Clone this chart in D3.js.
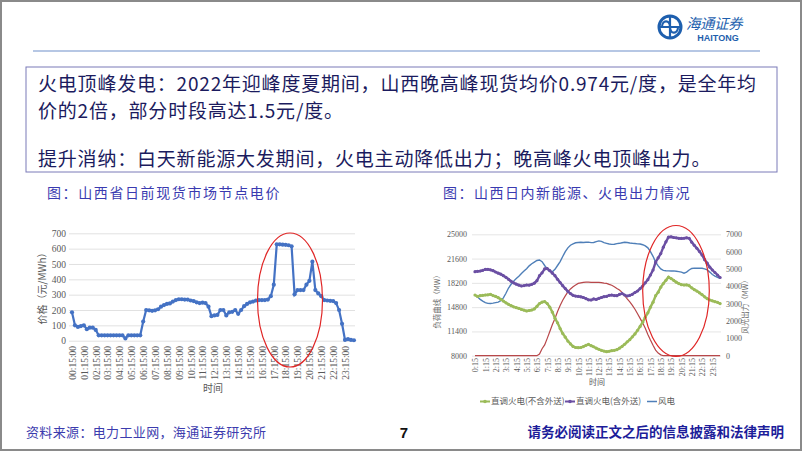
<!DOCTYPE html>
<html><head><meta charset="utf-8">
<script src="https://cdn.jsdelivr.net/npm/d3@7/dist/d3.min.js"></script>
<style>body{margin:0;background:#fff}svg{display:block}</style></head>
<body><svg id="c" width="802" height="451"></svg>
<script>
// ---------- DATA ----------
const textLines = [
  "火电顶峰发电：2022年迎峰度夏期间，山西晚高峰现货均价0.974元/度，是全年均",
  "价的2倍，部分时段高达1.5元/度。",
  "提升消纳：白天新能源大发期间，火电主动降低出力；晚高峰火电顶峰出力。"
];
const leftTitle = "图：山西省日前现货市场节点电价";
const rightTitle = "图：山西日内新能源、火电出力情况";
const sourceText = "资料来源：电力工业网，海通证券研究所";
const disclaimerText = "请务必阅读正文之后的信息披露和法律声明";
const pageNumber = "7";

// Left chart: day-ahead node price (元/MWh), 96 points every 15 minutes
const priceTickLabels = ["00:15:00","01:15:00","02:15:00","03:15:00","04:15:00","05:15:00","06:15:00","07:15:00",
  "08:15:00","09:15:00","10:15:00","11:15:00","12:15:00","13:15:00","14:15:00","15:15:00",
  "16:15:00","17:15:00","18:15:00","19:15:00","20:15:00","21:15:00","22:15:00","23:15:00"];
const priceYTicks = [0,100,200,300,400,500,600,700];
const priceValues = [185,100,90,95,100,75,85,85,70,35,35,35,35,35,35,35,35,35,15,35,35,35,35,35,
  125,200,198,195,198,205,222,232,240,243,255,265,270,270,268,268,262,258,250,245,248,245,222,160,
  165,168,200,200,165,185,188,200,175,200,225,240,250,255,262,265,265,265,268,290,365,628,628,626,
  625,622,615,302,330,330,330,365,390,515,330,308,290,265,262,260,258,245,200,110,5,10,5,3];

// Right chart: Shanxi intraday output (MW), 96 points every 15 minutes
const powerTickLabels = ["0:15","1:15","2:15","3:15","4:15","5:15","6:15","7:15","8:15","9:15","10:15","11:15",
  "12:15","13:15","14:15","15:15","16:15","17:15","18:15","19:15","20:15","21:15","22:15","23:15"];
const loadTicks = [8000,11400,14800,18200,21600,25000];
const renewTicks = [0,1000,2000,3000,4000,5000,6000,7000];
const seriesNames = ["直调火电(不含外送)","直调火电(含外送)","风电","光伏"];
const thermalExcl = [16500,16300,16400,16450,16500,16520,16600,16420,16300,16130,15900,15650,15400,15190,15000,14850,
  14720,14620,14480,14380,14260,14330,14400,14550,14900,15300,15500,15580,15300,14800,14100,13250,
  12600,11800,11100,10600,10050,9650,9300,9150,9120,9150,9280,9450,9580,9400,9250,9050,
  8900,8750,8650,8560,8620,8700,8750,8850,9050,9300,9600,9950,10250,10650,11050,11550,
  12100,12700,13400,14000,14800,15500,16400,16900,17600,18100,18550,19000,18800,18550,18300,18100,
  17950,17900,17920,17800,17500,17250,17050,16800,16550,16250,15980,15800,15680,15560,15470,15300];
const thermalIncl = [19770,19820,19860,19950,20080,20100,20020,19900,19720,19560,19420,19200,18980,18700,18420,18200,
  18020,17880,17760,17820,17900,17880,18000,18150,18500,19200,19600,20150,20200,19900,19550,19200,
  18700,18250,17800,17400,17000,16700,16450,16350,16300,16250,16150,16000,15820,15800,15950,15880,
  16020,16150,16270,16300,16450,16500,16420,16400,16600,16700,16500,16360,16450,16600,16850,17060,
  17400,17760,18200,18650,19300,20000,21100,21700,22300,23200,23950,24600,24650,24550,24500,24440,
  24420,24450,24520,24450,23900,23450,23050,22600,22100,21450,20950,20400,20000,19650,19300,18950];
const wind = [3500,3380,3250,3150,3060,3020,3010,3030,3060,3090,3170,3330,3600,3900,4120,4300,
  4450,4580,4740,4880,5020,5180,5300,5400,5490,5520,5420,5200,5000,4870,4840,4980,
  5200,5430,5720,6000,6220,6370,6450,6510,6530,6540,6530,6540,6550,6520,6530,6580,
  6620,6590,6520,6480,6440,6420,6430,6460,6480,6510,6540,6530,6500,6480,6470,6450,
  6440,6400,6330,6220,6000,5730,5400,5180,5000,4920,4900,4890,4880,4890,4870,4850,
  4820,4760,4820,4940,5030,5050,5040,5050,5040,5010,4950,4820,4680,4590,4520,4460];
const solar = [0,0,0,0,0,0,0,0,0,0,0,0,0,0,0,0,0,0,0,0,0,0,0,0,0,
  100,400,620,1000,1400,1800,2150,2550,2900,3200,3450,3680,3850,3980,4080,4170,4200,4230,4240,4240,4230,4230,4230,
  4230,4210,4180,4170,4110,4060,3980,3880,3790,3650,3470,3270,3100,2900,2680,2420,2150,1880,1580,1220,900,600,320,150,50,
  0,0,0,0,0,0,0,0,0,0,0,0,0,0,0,0,0,0,0,0,0,0,0];

// ---------- DRAW ----------
const svg = d3.select("#c");
const CJK = "'Noto Sans CJK SC','Noto Sans',sans-serif";
const SERIF = "'Liberation Serif','DejaVu Serif',serif";
const fmt = d3.format("d");

svg.append("rect").attr("x",1).attr("y",1).attr("width",800).attr("height",449)
  .attr("fill","#fff").attr("stroke","#8a8a8a").attr("stroke-width",2);

// header logo
const logo = svg.append("g");
logo.append("circle").attr("cx",670).attr("cy",27).attr("r",11).attr("fill","none").attr("stroke","#1e5fae").attr("stroke-width",3);
logo.append("path").attr("d","M662,27 C662,20 670,19 670,27 C670,35 678,34 678,27 M670,16 L670,38 M659,27 L681,27")
  .attr("fill","none").attr("stroke","#1e5fae").attr("stroke-width",2.2);
logo.append("text").attr("x",686).attr("y",29).attr("font-family",CJK).attr("font-size",14.5)
  .attr("font-style","italic").attr("fill","#1e5fae").attr("letter-spacing",-0.5).text("海通证券");
logo.append("text").attr("x",718).attr("y",41).attr("text-anchor","middle").attr("font-family","'Liberation Sans',Arial,sans-serif")
  .attr("font-size",9).attr("font-weight","bold").attr("fill","#1e5fae").text("HAITONG");
svg.append("line").attr("x1",33).attr("x2",760).attr("y1",51).attr("y2",51).attr("stroke","#6f8fca").attr("stroke-width",1.2);

// text box
svg.append("rect").attr("x",26).attr("y",67).attr("width",751).attr("height",105)
  .attr("fill","none").attr("stroke","#7a7ab8").attr("stroke-width",1);
const lineY = [90.5, 118, 166];
textLines.forEach((t,i)=>{
  svg.append("text").attr("x",38).attr("y",lineY[i]).attr("font-family",CJK).attr("font-size",19)
    .attr("letter-spacing",0.8).attr("fill","#1b1b5e").text(t);
});

// chart titles
svg.append("text").attr("x",47).attr("y",198).attr("font-family",CJK).attr("font-size",14)
  .attr("letter-spacing",1.6).attr("fill","#3a3ab0").text(leftTitle);
svg.append("text").attr("x",443).attr("y",198).attr("font-family",CJK).attr("font-size",14)
  .attr("letter-spacing",1.5).attr("fill","#3a3ab0").text(rightTitle);

// ---------- LEFT CHART ----------
{
  const x = d3.scaleLinear().domain([-0.5,95.5]).range([70.5,355.4]);
  const y = d3.scaleLinear().domain([0,700]).range([340.7,233.3]);
  const g = svg.append("g");
  g.append("g").attr("transform","translate(69,0)")
    .call(d3.axisLeft(y).tickValues(priceYTicks).tickSize(-286).tickFormat(""))
    .call(a=>{a.select(".domain").remove(); a.selectAll("line").attr("stroke","#d9d9d9").attr("stroke-width",0.8);});
  g.append("g").attr("transform","translate(66,0)")
    .call(d3.axisLeft(y).tickValues(priceYTicks).tickSize(0).tickPadding(0).tickFormat(fmt))
    .call(a=>{a.select(".domain").remove(); a.selectAll("text").attr("font-family",SERIF).attr("font-size",9.5).attr("fill","#595959");});
  g.append("g").attr("transform","translate(0,345)")
    .call(d3.axisBottom(x).tickValues(d3.range(0,96,4)).tickSize(0).tickFormat((d,i)=>priceTickLabels[i]))
    .call(a=>{a.select(".domain").remove();
      a.selectAll("text").attr("font-family",SERIF).attr("font-size",9.5).attr("fill","#595959")
        .attr("transform","rotate(-90)").attr("text-anchor","end").attr("x",0).attr("y",0).attr("dy","0.35em").attr("dx","-0.1em");});
  g.append("text").attr("x",213).attr("y",392).attr("text-anchor","middle").attr("font-family",CJK)
    .attr("font-size",10).attr("fill","#595959").text("时间");
  g.append("text").attr("transform","translate(46,286) rotate(-90)").attr("text-anchor","middle")
    .attr("font-family",CJK).attr("font-size",10).attr("fill","#595959").text("价格（元/MWh）");
  const line = d3.line().x((d,i)=>x(i)).y(d=>y(d));
  g.append("path").datum(priceValues).attr("d",line).attr("fill","none").attr("stroke","#4472c4").attr("stroke-width",2.2);
  g.selectAll("circle.p").data(priceValues).join("circle").attr("class","p")
    .attr("cx",(d,i)=>x(i)).attr("cy",d=>y(d)).attr("r",2.1).attr("fill","#4472c4");
  g.append("ellipse").attr("cx",290).attr("cy",300).attr("rx",32.5).attr("ry",67)
    .attr("fill","none").attr("stroke","#e02626").attr("stroke-width",1.2);
}

// ---------- RIGHT CHART ----------
{
  const x = d3.scaleLinear().domain([-0.5,95.5]).range([473.7,721.4]);
  const yL = d3.scaleLinear().domain([8000,25000]).range([355.7,234.3]);
  const yR = d3.scaleLinear().domain([0,7000]).range([355.7,234.3]);
  const g = svg.append("g");
  g.append("g").attr("transform","translate(472,0)")
    .call(d3.axisLeft(yL).tickValues(loadTicks).tickSize(-249).tickFormat(""))
    .call(a=>{a.select(".domain").remove(); a.selectAll("line").attr("stroke","#dedede").attr("stroke-width",0.8);});
  g.append("g").attr("transform","translate(467,0)")
    .call(d3.axisLeft(yL).tickValues(loadTicks).tickSize(0).tickPadding(0).tickFormat(fmt))
    .call(a=>{a.select(".domain").remove(); a.selectAll("text").attr("font-family",SERIF).attr("font-size",8).attr("fill","#5a5a5a");});
  g.append("g").attr("transform","translate(726,0)")
    .call(d3.axisRight(yR).tickValues(renewTicks).tickSize(0).tickPadding(0).tickFormat(fmt))
    .call(a=>{a.select(".domain").remove(); a.selectAll("text").attr("font-family",SERIF).attr("font-size",8).attr("fill","#5a5a5a");});
  g.append("g").attr("transform","translate(0,358)")
    .call(d3.axisBottom(x).tickValues(d3.range(0,96,4)).tickSize(0).tickFormat((d,i)=>powerTickLabels[i]))
    .call(a=>{a.select(".domain").remove();
      a.selectAll("text").attr("font-family",SERIF).attr("font-size",8).attr("fill","#5a5a5a")
        .attr("transform","rotate(-90)").attr("text-anchor","end").attr("x",0).attr("y",0).attr("dy","0.35em");});
  g.append("text").attr("x",597).attr("y",385).attr("text-anchor","middle").attr("font-family",CJK)
    .attr("font-size",8).attr("fill","#5a5a5a").text("时间");
  g.append("text").attr("transform","translate(440,300) rotate(-90)").attr("text-anchor","middle")
    .attr("font-family",CJK).attr("font-size",7.5).attr("fill","#6a6a6a").text("负荷曲线（MW）");
  g.append("text").attr("transform","translate(748,305) rotate(-90)").attr("text-anchor","middle")
    .attr("font-family",CJK).attr("font-size",7.5).attr("fill","#6a6a6a").text("风光出力（MW）");

  const colors = ["#9bbb59","#6b4fa3","#4f7fb8","#b8474a"];
  const lL = d3.line().x((d,i)=>x(i)).y(d=>yL(d));
  const lR = d3.line().x((d,i)=>x(i)).y(d=>yR(d));
  g.append("path").datum(solar).attr("d",lR).attr("fill","none").attr("stroke",colors[3]).attr("stroke-width",1.2);
  g.append("path").datum(wind).attr("d",lR).attr("fill","none").attr("stroke",colors[2]).attr("stroke-width",1.4);
  [[thermalExcl,colors[0]],[thermalIncl,colors[1]]].forEach(([data,c])=>{
    g.append("path").datum(data).attr("d",lL).attr("fill","none").attr("stroke",c).attr("stroke-width",2.4);
    g.append("g").selectAll("circle").data(data).join("circle")
      .attr("cx",(d,i)=>x(i)).attr("cy",d=>yL(d)).attr("r",1.6).attr("fill",c);
  });
  g.append("ellipse").attr("cx",676).attr("cy",291).attr("rx",33.3).attr("ry",65.5)
    .attr("fill","none").attr("stroke","#e02626").attr("stroke-width",1.2);

  const leg = [{x:480,c:colors[0],n:seriesNames[0],m:true},{x:565,c:colors[1],n:seriesNames[1],m:true},{x:647,c:colors[2],n:seriesNames[2],m:false}];
  leg.forEach(d=>{
    const lg = g.append("g").attr("transform",`translate(${d.x},401.5)`);
    lg.append("line").attr("x1",0).attr("x2",10).attr("stroke",d.c).attr("stroke-width",d.m?2:1.5);
    if(d.m) lg.append("circle").attr("cx",5).attr("r",1.8).attr("fill",d.c);
    lg.append("text").attr("x",11).attr("dy","0.35em").attr("font-family",CJK).attr("font-size",8.5)
      .attr("fill","#5a5a5a").text(d.n);
  });
}

// ---------- FOOTER ----------
svg.append("text").attr("x",26).attr("y",437).attr("font-family",CJK).attr("font-size",13)
  .attr("letter-spacing",0.35).attr("fill","#3c3cae").text(sourceText);
svg.append("text").attr("x",404).attr("y",438).attr("text-anchor","middle").attr("font-family","'Liberation Sans',Arial,sans-serif")
  .attr("font-size",15).attr("font-weight","bold").attr("fill","#111").text(pageNumber);
svg.append("text").attr("x",784).attr("y",437).attr("text-anchor","end").attr("font-family",CJK).attr("font-size",13.5)
  .attr("font-weight","bold").attr("fill","#1d1d9a").text(disclaimerText);
</script></body></html>
